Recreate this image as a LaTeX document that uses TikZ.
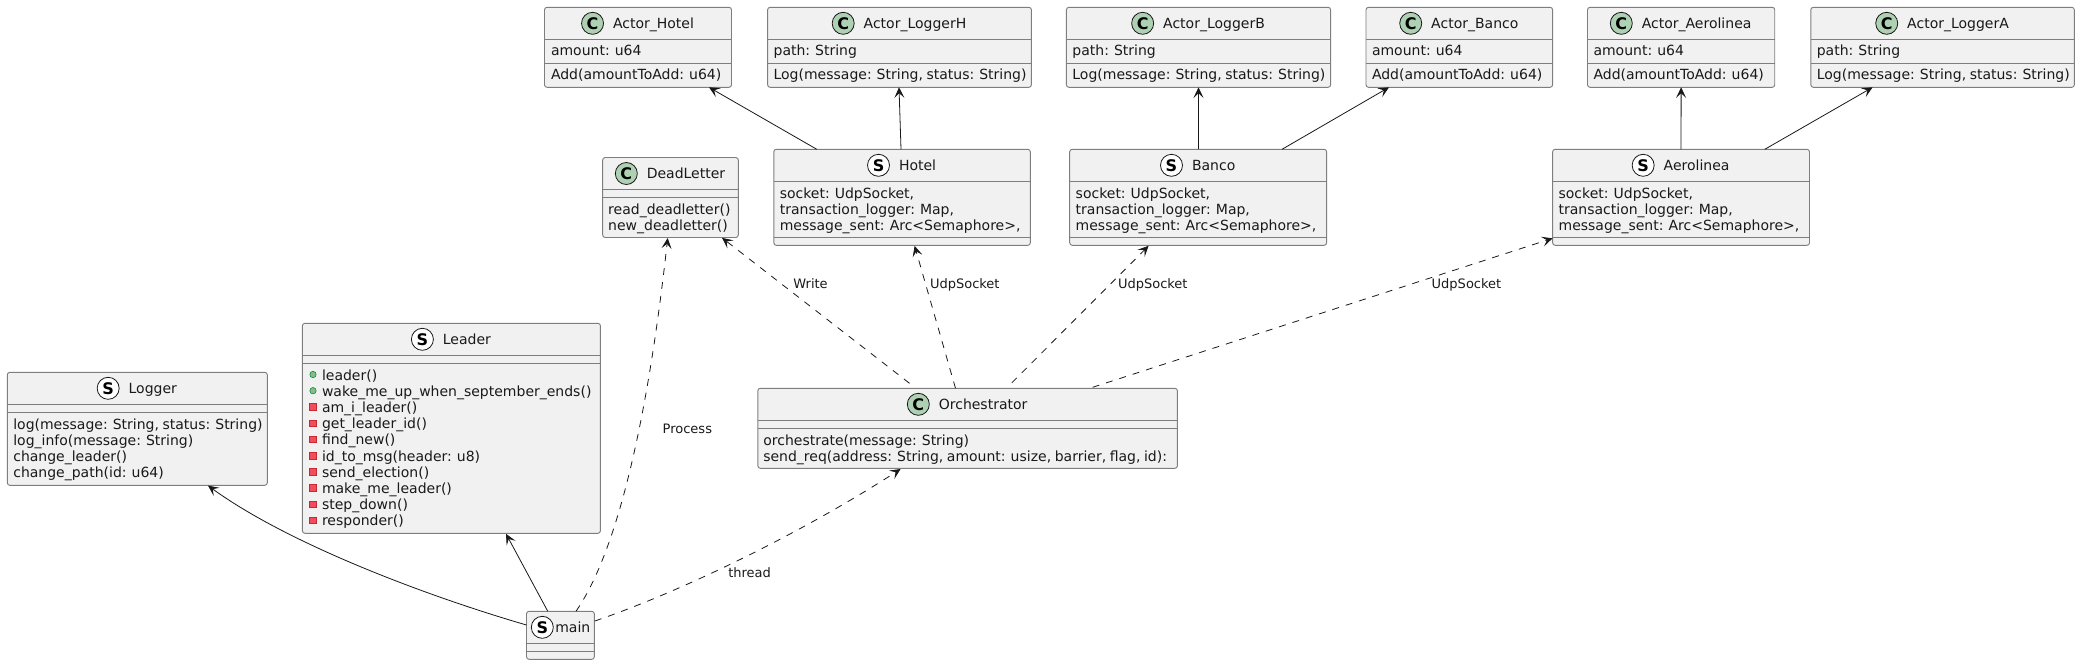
\documentclass[tikz,border=0pt]{standalone}
\usepackage{fontspec}
\setmainfont[WordSpace=0.8]{DejaVu Sans}
\usetikzlibrary{arrows.meta,calc}
\definecolor{umlline}{HTML}{181818}
\definecolor{umlbox}{HTML}{7E7E7E}
\definecolor{umlfill}{HTML}{F1F1F1}
\definecolor{spotc}{HTML}{ADD1B2}
\definecolor{pubfill}{HTML}{84BE84}
\definecolor{publine}{HTML}{038048}
\definecolor{privfill}{HTML}{F24D5C}
\definecolor{privline}{HTML}{C82930}
\tikzset{
  umlbody/.style={draw=umlbox,fill=umlfill,line width=0.7pt,rounded corners=1.9pt,inner sep=0pt,outer sep=0pt,anchor=north west},
  umlsep/.style={draw=umlbox,line width=0.7pt},
  umltitle/.style={font=\fontsize{10.5}{12}\selectfont,inner sep=0pt,outer sep=0pt,anchor=base,text=black!90},
  umlrow/.style={font=\fontsize{10.5}{12}\selectfont,inner sep=0pt,outer sep=0pt,anchor=base west,text=black!90},
  spotC/.style={circle,draw=umlline,fill=spotc,line width=0.6pt,minimum size=16.5pt,inner sep=0pt,font=\fontsize{12}{12}\bfseries\selectfont},
  spotS/.style={circle,draw=umlline,fill=white,line width=0.6pt,minimum size=16.5pt,inner sep=0pt,font=\fontsize{12}{12}\bfseries\selectfont},
  pubicon/.style={circle,draw=publine,fill=pubfill,line width=0.4pt,minimum size=4.8pt,inner sep=0pt},
  privicon/.style={rectangle,draw=privline,fill=privfill,line width=0.4pt,minimum size=5pt,inner sep=0pt},
  uses/.style={draw=umlline,line width=0.6pt,-{Stealth[length=8pt,width=7.5pt,inset=3.6pt]}},
  dep/.style={uses,dash pattern=on 5.25pt off 5.25pt},
  edgelabel/.style={font=\fontsize{9.75}{12}\selectfont,inner sep=0pt,outer sep=0pt,anchor=base west,text=black!90}
}
% name, letter, x, y, w, h, sep1, sep2, title
\newcommand{\titleoff}{15.5}
\newcommand{\spotoff}{-20.5}
\newcommand{\umlclass}[9]{%
  \node[umlbody,minimum width={(#5)*0.75pt},minimum height={(#6)*0.75pt}] (#1) at (#3,#4) {};
  \draw[umlsep] ($(#1.north west)+(0,#7)$) -- ($(#1.north east)+(0,#7)$);
  \draw[umlsep] ($(#1.north west)+(0,#8)$) -- ($(#1.north east)+(0,#8)$);
  \node[umltitle] (#1-title) at ($(#1.north)+(\titleoff,20.7)$) {#9};
  \node[spot#2] (#1-spot) at ($(#1-title.west |- #1.north)+(\spotoff,16)$) {#2};
}
% name, x offset, y offset of first baseline, rows
\newcommand{\umlrows}[4]{%
  \foreach \rowtext [count=\rowi from 0] in {#4} {
    \node[umlrow] (#1-row\rowi) at ($(#1.north west)+(#2,#3+\rowi*16.2)$) {\rowtext};
  }
}
\begin{document}
\begin{tikzpicture}[x=0.75pt,y=-0.75pt]
\useasboundingbox (0,0) rectangle (2080,665);

\umlclass{acthotel}{C}{544.5}{7.3}{187}{80}{32}{56}{Actor\_Hotel}
\umlrows{acthotel}{6.5}{48.5}{{amount: u64}}
\umlrows{acthotel}{6.5}{72.5}{{Add(amountToAdd: u64)}}
\umlclass{actlogh}{C}{767.6}{7.3}{263.8}{80}{32}{56}{Actor\_LoggerH}
\umlrows{actlogh}{6}{48.5}{{path: String}}
\umlrows{actlogh}{6}{72.5}{{Log(message: String, status: String)}}
\umlclass{actlogb}{C}{1066.4}{7.3}{264.2}{80}{32}{56}{Actor\_LoggerB}
\umlrows{actlogb}{6}{48.5}{{path: String}}
\umlrows{actlogb}{6}{72.5}{{Log(message: String, status: String)}}
\umlclass{actbanco}{C}{1366}{7.3}{186.6}{80}{32}{56}{Actor\_Banco}
\umlrows{actbanco}{6}{48.5}{{amount: u64}}
\umlrows{actbanco}{6}{72.5}{{Add(amountToAdd: u64)}}
\umlclass{actaero}{C}{1587.5}{7.3}{187.2}{80}{32}{56}{Actor\_Aerolinea}
\umlrows{actaero}{6}{48.5}{{amount: u64}}
\umlrows{actaero}{6}{72.5}{{Add(amountToAdd: u64)}}
\umlclass{actloga}{C}{1810.8}{7.3}{263.5}{80}{32}{56}{Actor\_LoggerA}
\umlrows{actloga}{6}{48.5}{{path: String}}
\umlrows{actloga}{6}{72.5}{{Log(message: String, status: String)}}

\umlclass{hotel}{S}{773.8}{149.3}{256.5}{96}{32}{88}{Hotel}
\umlrows{hotel}{6}{49}{{socket: UdpSocket,},{transaction\_logger: Map,},{message\_sent: Arc<Semaphore>,}}
\umlclass{banco}{S}{1069.7}{149.3}{256.9}{96}{32}{88}{Banco}
\umlrows{banco}{6}{49}{{socket: UdpSocket,},{transaction\_logger: Map,},{message\_sent: Arc<Semaphore>,}}
\umlclass{aero}{S}{1552.6}{149.3}{256.9}{96}{32}{88}{Aerolinea}
\umlrows{aero}{6}{49}{{socket: UdpSocket,},{transaction\_logger: Map,},{message\_sent: Arc<Semaphore>,}}

\umlclass{dead}{C}{602.7}{157.5}{135.6}{80}{32}{40}{DeadLetter}
\umlrows{dead}{5.5}{56.7}{{read\_deadletter()},{new\_deadletter()}}

\umlclass{orch}{C}{757.8}{388.3}{419.6}{80}{32}{40}{Orchestrator}
\umlrows{orch}{5.5}{56.7}{{orchestrate(message: String)},{send\_req(address: String, amount: usize, barrier, flag, id):}}

\umlclass{logger}{S}{7.3}{372.3}{260}{113}{32}{40}{Logger}
\umlrows{logger}{6}{56.7}{{log(message: String, status: String)},{log\_info(message: String)},{change\_leader()},{change\_path(id: u64)}}

\umlclass{leader}{S}{302.4}{323.3}{298}{210}{32}{40}{Leader}
\umlrows{leader}{19.6}{56.7}{{leader()},{wake\_me\_up\_when\_september\_ends()},{am\_i\_leader()},{get\_leader\_id()},{find\_new()},{id\_to\_msg(header: u8)},{send\_election()},{make\_me\_leader()},{step\_down()},{responder()}}
\foreach \rowi in {0,1} {\node[pubicon] (leader-icon\rowi) at ($(leader-row\rowi.base west)+(-9,-5.5)$) {};}
\foreach \rowi in {2,...,9} {\node[privicon] (leader-icon\rowi) at ($(leader-row\rowi.base west)+(-9,-5.5)$) {};}

\renewcommand{\titleoff}{12.4}
\renewcommand{\spotoff}{-13}
\umlclass{main}{S}{526.5}{611.3}{67.8}{48}{32}{40}{main}

% connectors
\draw[uses] ($(hotel.north west)+(43,0)$) -- ($(acthotel.south west)+(164.5,0)$);
\draw[uses] ($(hotel.north west)+(127.2,0)$) -- ($(actlogh.south west)+(131.4,0)$);
\draw[uses] ($(banco.north west)+(128.8,0)$) -- ($(actlogb.south west)+(132.1,0)$);
\draw[uses] ($(banco.north west)+(212.3,0)$) -- ($(actbanco.south west)+(23,0)$);
\draw[uses] (aero.north) -- (actaero.south);
\draw[uses] ($(aero.north west)+(212.2,0)$) -- ($(actloga.south west)+(61.8,0)$);

\draw[dep] ($(orch.north west)+(151.7,-5)$) -- ($(dead.south west)+(119.3,0.3)$);
\draw[dep] ($(orch.north west)+(197.7,0)$) -- ($(hotel.south west)+(140.8,0.5)$);
\draw[dep] ($(orch.north west)+(254,-5.5)$) -- ($(banco.south west)+(78.9,0.5)$);
\draw[dep] ($(orch.north west)+(334.8,-1)$) -- ($(aero.south west)+(0,-7)$);

\draw[uses] (main.west |- 0,625) .. controls (430,597) and (290,545) .. ($(logger.south west)+(200.7,0.3)$);
\draw[uses] ($(main.north west)+(21.3,0)$) -- ($(leader.south west)+(203.6,0.5)$);
\draw[dep] ($(main.north west)+(49.5,0)$) .. controls (625,540) and (652,380) .. ($(dead.south west)+(65,0.5)$);
\draw[dep] ($(main.north east)+(0.5,9.7)$) .. controls (680,592) and (800,534) .. ($(orch.south west)+(142.8,0.7)$);

% labels
\node[edgelabel] (lwrite) at (793.4,288.5) {Write};
\node[edgelabel] (ludph) at (930,288.5) {UdpSocket};
\node[edgelabel] (ludpb) at (1118,288.5) {UdpSocket};
\node[edgelabel] (ludpa) at (1431.7,288.5) {UdpSocket};
\node[edgelabel] (lproc) at (662.7,433.5) {Process};
\node[edgelabel] (lthread) at (728.3,577) {thread};
\end{tikzpicture}
\end{document}
